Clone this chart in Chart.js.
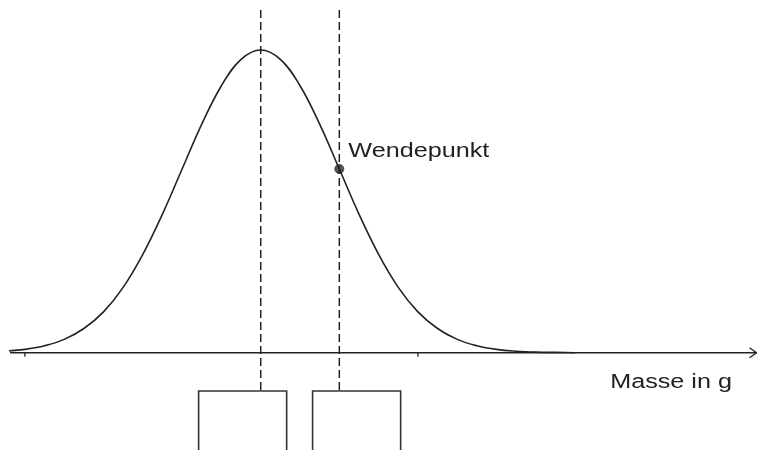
<!DOCTYPE html>
<html>
<head>
<meta charset="utf-8">
<script src="https://cdn.jsdelivr.net/npm/chart.js@4"></script>
<style>
  html, body { margin: 0; padding: 0; background: #fff; }
  #wrap { width: 757px; height: 450px; }
</style>
</head>
<body>
<div id="wrap"><canvas id="normalChart"></canvas></div>
<script>
// x in units of sigma (mean = 0), y = density relative to the peak
const massPos = [-3.2, -3, -2.75, -2.5, -2.25, -2, -1.75, -1.5, -1.25, -1, -0.75, -0.5, -0.25, 0,
                 0.25, 0.5, 0.75, 1, 1.25, 1.5, 1.75, 2, 2.25, 2.5, 2.75, 3, 3.25, 3.5, 3.75, 4];
const density = [0.006, 0.011, 0.023, 0.044, 0.080, 0.135, 0.216, 0.325, 0.458, 0.607, 0.755, 0.882, 0.969, 1,
                 0.969, 0.882, 0.755, 0.607, 0.458, 0.325, 0.216, 0.135, 0.080, 0.044, 0.023, 0.011, 0.005, 0.002, 0.001, 0];
const meanX = 0;
const inflection = { x: 1, y: 0.607, label: 'Wendepunkt' };
const axisLabel = 'Masse in g';
const axisTicks = [-3, 2];
const answerBoxes = [[-0.79, 0.33], [0.66, 1.78]];

// axis ranges so the plot area fills the whole canvas
const xMin = -3.317, xMax = 6.314;
const yMin = -0.3214, yMax = 1.1652;
const guideTop = 1.132, boxTop = -0.1265;

const ink = '#222';

function vline(x) {
    return [{ x: x, y: guideTop }, { x: x, y: boxTop }];
}

const datasets = [];

// bell curve
datasets.push({
    data: massPos.map((x, i) => ({ x: x, y: density[i] })),
    borderColor: ink, borderWidth: 1.6, tension: 0.4, pointRadius: 0
});

// horizontal axis
datasets.push({
    data: [{ x: -3.19, y: 0 }, { x: xMax, y: 0 }],
    borderColor: ink, borderWidth: 1.5, pointRadius: 0
});

// dashed guides at the mean and the inflection point
[meanX, inflection.x].forEach(x => {
    datasets.push({
        data: vline(x),
        borderColor: ink, borderWidth: 1.5, borderDash: [8, 4], pointRadius: 0
    });
});

// empty boxes under the axis
answerBoxes.forEach(b => {
    datasets.push({
        data: [{ x: b[0], y: yMin - 0.1 }, { x: b[0], y: boxTop }, { x: b[1], y: boxTop }, { x: b[1], y: yMin - 0.1 }],
        borderColor: '#333', borderWidth: 1.6, pointRadius: 0
    });
});

// inflection point marker
datasets.push({
    data: [{ x: inflection.x, y: inflection.y }],
    showLine: false, pointRadius: 4.5, pointBackgroundColor: '#555', pointBorderColor: '#444', pointBorderWidth: 1
});

const extras = {
    id: 'extras',
    afterDatasetsDraw(chart) {
        const ctx = chart.ctx;
        const xs = chart.scales.x, ys = chart.scales.y;
        const y0 = ys.getPixelForValue(0);
        ctx.save();
        ctx.strokeStyle = ink;
        ctx.lineWidth = 1.3;
        // ticks
        axisTicks.forEach(t => {
            const px = xs.getPixelForValue(t);
            ctx.beginPath();
            ctx.moveTo(px, y0);
            ctx.lineTo(px, y0 + 4);
            ctx.stroke();
        });
        // arrow head
        const ax = xs.getPixelForValue(xMax) - 0.5;
        ctx.beginPath();
        ctx.moveTo(ax - 7, y0 - 5);
        ctx.lineTo(ax, y0);
        ctx.lineTo(ax - 7, y0 + 5);
        ctx.stroke();

        // labels (the original is stretched horizontally)
        ctx.fillStyle = ink;
        ctx.font = '20px "Liberation Sans", Arial, sans-serif';
        ctx.textBaseline = 'alphabetic';
        const stretch = 1.26;
        const drawText = (text, x, y) => {
            ctx.save();
            ctx.translate(x, y);
            ctx.scale(stretch, 1);
            ctx.fillText(text, 0, 0);
            ctx.restore();
        };
        const ipx = xs.getPixelForValue(inflection.x), ipy = ys.getPixelForValue(inflection.y);
        drawText(inflection.label, ipx + 9, ipy - 12);
        const w = ctx.measureText(axisLabel).width * stretch;
        drawText(axisLabel, xs.getPixelForValue(xMax) - 25 - w, y0 + 35);
        ctx.restore();
    }
};

new Chart(document.getElementById('normalChart'), {
    type: 'scatter',
    data: { datasets: datasets.map(d => Object.assign({ showLine: true, fill: false }, d)) },
    options: {
        responsive: true,
        maintainAspectRatio: false,
        animation: false,
        layout: { padding: 0, autoPadding: false },
        plugins: { legend: { display: false }, tooltip: { enabled: false } },
        scales: {
            x: { type: 'linear', min: xMin, max: xMax, display: false },
            y: { type: 'linear', min: yMin, max: yMax, display: false }
        }
    },
    plugins: [extras]
});
</script>
</body>
</html>
